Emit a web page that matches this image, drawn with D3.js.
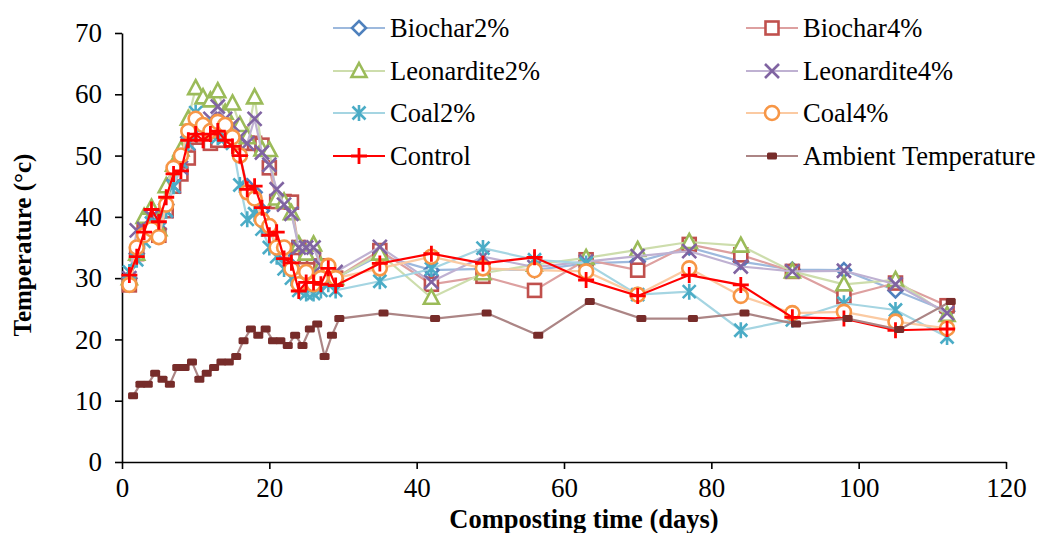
<!DOCTYPE html>
<html><head><meta charset="utf-8">
<script src="https://cdn.jsdelivr.net/npm/d3@7"></script>
<style>body{margin:0;background:#fff}svg{display:block}</style>
</head><body><svg id="c" width="1039" height="533"></svg>
<script>
const days = [1,2,3,4,5,6,7,8,9,10,11,12,13,14,15,16,17,18,19,20,21,22,23,24,25,26,27,28,29,35,42,49,56,63,70,77,84,91,98,105,112];
const ambientDays = [1.5,2.5,3.5,4.5,5.5,6.5,7.5,8.5,9.5,10.5,11.5,12.5,13.5,14.5,15.5,16.5,17.5,18.5,19.5,20.5,21.5,22.5,23.5,24.5,25.5,26.5,27.5,28.5,29.5,35.5,42.5,49.5,56.5,63.5,70.5,77.5,84.5,91.5,98.5,105.5,112.5];
const biochar2 = [30,34,38,40,38,42,46,49,53,56,55,54,54,54,53,50,45,44,41,38,35,34,32,30,30,30,30,30.5,30,33.7,31.3,31.5,31.3,32.4,32.7,35.0,32.7,31.4,31.3,28.0,24.6];
const biochar4 = [28.9,34,38,40,37,41,45,47,49.6,53,53,52,52.5,54,54,53.5,52,52,51.7,48,42.5,42.5,42.4,35,33.5,33.5,32,31,30,34.5,29.0,30.3,28.0,33.0,31.3,35.5,33.8,31.1,27.0,29.2,25.5];
const leonardite2 = [30,34,40,41.5,38,45,48.5,51,56,61,59.5,59,60.5,57,58.5,55,53,59.5,51,50.9,43,42.5,40.6,35.5,34,35.5,32,31,30,34.0,26.8,30.8,32.2,33.3,34.6,35.9,35.3,31.1,29.0,29.7,24];
const leonardite4 = [30,37.8,38,40,38,41,45,48,52,55,55,56,58,56,55,53,52,56,50.5,48.5,44.5,42,40.5,35,35,35,32,31,31,35.1,29.4,33.5,31.8,32.7,33.6,34.4,31.9,31.1,31.2,29.0,24.3];
const coal2 = [31,33,36,39,38,41,45,49,52,57,55,53.5,53,53,52,45.2,39.6,40.5,38,35,33.5,31.5,30,28,27.5,27.5,28,29,28,29.5,31.5,34.9,33,32.4,27.3,27.8,21.5,23.2,25.9,24.8,20.4];
const coal4 = [28.9,35,37,38,36.7,42,48,50,54,56,55,54,55.5,55,53,50,44,43,39.5,38.5,35,35,31.5,29,31,29,30,32,30,31.6,33.5,31.6,31.3,31.1,27.3,31.6,27.1,24.3,24.5,22.9,21.8];
const control = [30.5,33.5,37.5,41.2,39.2,43.2,47,47.5,52.5,53.5,52.5,53.5,54,52.5,51.5,50,44.5,45,41.5,37,37.5,33.2,32.5,27.9,29.3,29.3,29,31.6,28.8,32.4,34.0,32.4,33.4,29.7,27.1,30.5,28.9,23.6,23.4,21.5,21.7];
const ambient = [10.8,12.7,12.7,14.5,13.5,12.7,15.4,15.4,16.3,13.5,14.5,15.4,16.3,16.3,17.2,19.8,21.7,20.7,21.7,19.8,19.8,19.0,20.7,19.0,21.7,22.5,17.2,20.7,23.4,24.3,23.4,24.3,20.7,26.2,23.4,23.4,24.3,22.5,23.4,21.6,26.2];
const seriesNames = ["Biochar2%","Biochar4%","Leonardite2%","Leonardite4%","Coal2%","Coal4%","Control","Ambient Temperature"];
const xTicks = [0,20,40,60,80,100,120];
const yTicks = [0,10,20,30,40,50,60,70];

const series = [
  {name:seriesNames[0], x:days, y:biochar2, shape:"diamond", mc:"#4F81BD", lc:"#9DB9DD"},
  {name:seriesNames[1], x:days, y:biochar4, shape:"square", mc:"#C0504D", lc:"#DDA0A0"},
  {name:seriesNames[2], x:days, y:leonardite2, shape:"triangle", mc:"#9BBB59", lc:"#CDDDAC"},
  {name:seriesNames[3], x:days, y:leonardite4, shape:"x", mc:"#8064A2", lc:"#BFB1D2"},
  {name:seriesNames[4], x:days, y:coal2, shape:"star", mc:"#4BACC6", lc:"#A5D5E2"},
  {name:seriesNames[5], x:days, y:coal4, shape:"circle", mc:"#F79646", lc:"#FBCAA2"},
  {name:seriesNames[6], x:days, y:control, shape:"plus", mc:"#FF0000", lc:"#FF0000"},
  {name:seriesNames[7], x:ambientDays, y:ambient, shape:"dash", mc:"#772C2A", lc:"#AC8585"}
];

const FONT = "'Liberation Serif','Times New Roman',serif";
const svg = d3.select("#c");
const L=122, R=1006, T=33, B=462;
const x = d3.scaleLinear().domain([0,120]).range([L,R]);
const y = d3.scaleLinear().domain([0,70]).range([B,T]);

function marker(g, shape, cx, cy, c){
  const sw = 2.6;
  if(shape==="diamond"){
    g.append("path").attr("d",`M${cx},${cy-7}L${cx+7},${cy}L${cx},${cy+7}L${cx-7},${cy}Z`).attr("fill","#fff").attr("stroke",c).attr("stroke-width",sw);
  } else if(shape==="square"){
    g.append("rect").attr("x",cx-6.5).attr("y",cy-6.5).attr("width",13).attr("height",13).attr("fill","#fff").attr("stroke",c).attr("stroke-width",sw);
  } else if(shape==="triangle"){
    g.append("path").attr("d",`M${cx},${cy-8}L${cx+7.5},${cy+6}L${cx-7.5},${cy+6}Z`).attr("fill","#fff").attr("stroke",c).attr("stroke-width",sw);
  } else if(shape==="x"){
    g.append("path").attr("d",`M${cx-7},${cy-7}L${cx+7},${cy+7}M${cx-7},${cy+7}L${cx+7},${cy-7}`).attr("stroke",c).attr("stroke-width",sw);
  } else if(shape==="star"){
    g.append("path").attr("d",`M${cx-6.5},${cy-6.5}L${cx+6.5},${cy+6.5}M${cx-6.5},${cy+6.5}L${cx+6.5},${cy-6.5}M${cx},${cy-8}L${cx},${cy+8}`).attr("stroke",c).attr("stroke-width",sw);
  } else if(shape==="circle"){
    g.append("circle").attr("cx",cx).attr("cy",cy).attr("r",7).attr("fill","#fff").attr("stroke",c).attr("stroke-width",sw);
  } else if(shape==="plus"){
    g.append("path").attr("d",`M${cx-8},${cy}L${cx+8},${cy}M${cx},${cy-8}L${cx},${cy+8}`).attr("stroke",c).attr("stroke-width",2.8);
  } else if(shape==="dash"){
    g.append("rect").attr("x",cx-5).attr("y",cy-3.5).attr("width",10).attr("height",7).attr("rx",1.5).attr("fill",c);
  }
}

// axes
const xAxis = d3.axisBottom(x).tickValues(xTicks).tickSize(7).tickPadding(9).tickSizeOuter(0);
const yAxis = d3.axisLeft(y).tickValues(yTicks).tickSize(7).tickPadding(13).tickSizeOuter(0);
const gx = svg.append("g").attr("transform",`translate(0,${B})`).call(xAxis);
const gy = svg.append("g").attr("transform",`translate(${L},0)`).call(yAxis);
[gx,gy].forEach(g=>{
  g.attr("font-family",null).attr("font-size",null);
  g.selectAll("path.domain").attr("stroke","#000").attr("stroke-width",1.6);
  g.selectAll(".tick line").attr("stroke","#000").attr("stroke-width",1.6);
  g.selectAll(".tick text").style("font-family",FONT).style("font-size","27px").attr("fill","#000");
});

// series
const line = d3.line();
series.forEach(s=>{
  const g = svg.append("g");
  const pts = s.x.map((d,i)=>[x(d), y(s.y[i])]);
  g.append("path").attr("d",line(pts)).attr("fill","none").attr("stroke",s.lc).attr("stroke-width",2.2);
  pts.forEach(p=>marker(g,s.shape,p[0],p[1],s.mc));
});

// legend
const legX = [333,746], legY = [28,71,113,156];
series.forEach((s,i)=>{
  const col = i%2, row = Math.floor(i/2);
  const lx = legX[col], ly = legY[row];
  const g = svg.append("g");
  g.append("line").attr("x1",lx).attr("x2",lx+52).attr("y1",ly).attr("y2",ly).attr("stroke",s.lc).attr("stroke-width",2.2);
  marker(g,s.shape,lx+26,ly,s.mc);
  g.append("text").attr("x",lx+57).attr("y",ly+8.5).style("font-family",FONT).style("font-size","26.5px").attr("fill","#000").text(s.name);
});

// axis titles
svg.append("text").attr("x",584).attr("y",528).attr("text-anchor","middle").style("font-family",FONT).style("font-size","26.5px").style("font-weight","bold").text("Composting time (days)");
svg.append("text").attr("transform","translate(31,245) rotate(-90)").attr("text-anchor","middle").style("font-family",FONT).style("font-size","25px").style("font-weight","bold").text("Temperature (°c)");
</script></body></html>
